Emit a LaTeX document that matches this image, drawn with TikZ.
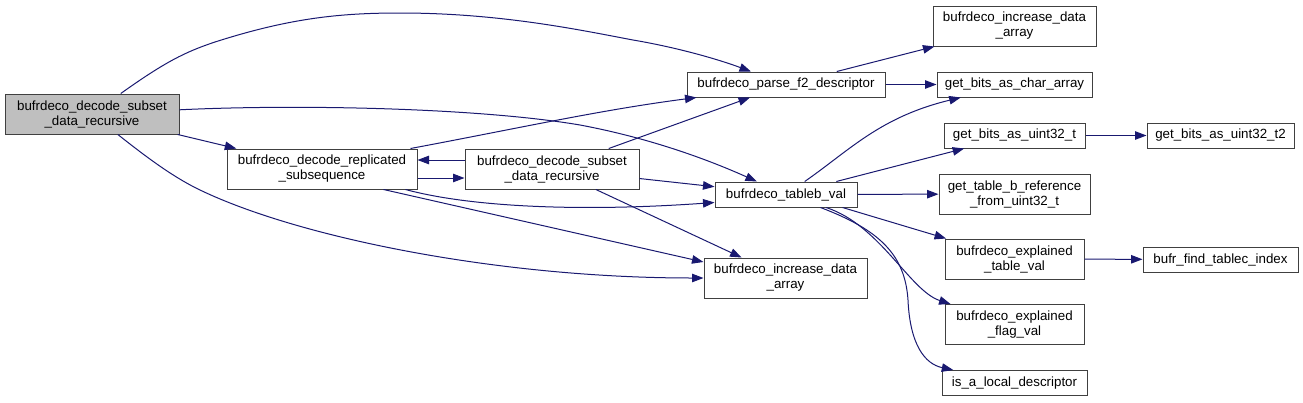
\documentclass[tikz,border=0pt]{standalone}
\usepackage{fontspec}
\setmainfont{Liberation Sans}
\usetikzlibrary{arrows.meta}
\definecolor{edgeblue}{HTML}{191970}
\definecolor{rootgray}{HTML}{BFBFBF}

\begin{document}
\begin{tikzpicture}[
  x=1pt, y=-1pt,
  font=\fontsize{13.33}{15}\selectfont,
  >={Triangle[length=11.5pt, width=8.5pt]},
  box/.style={draw=black!75, line width=1pt, fill=white, align=center, inner sep=0pt},
  one/.style={minimum height=25pt},
  two/.style={minimum height=40pt},
  edge/.style={->, draw=edgeblue, line width=1pt}
]
\useasboundingbox (0,0) rectangle (1303,402);
% callers side
\node[box, two, minimum width=174pt, fill=rootgray] (root) at (92,114) {bufrdeco\_decode\_subset\\\_data\_recursive};
\node[box, two, minimum width=190pt] (repl) at (322,169) {bufrdeco\_decode\_replicated\\\_subsequence};
\node[box, two, minimum width=174pt] (subset) at (552,169) {bufrdeco\_decode\_subset\\\_data\_recursive};
\node[box, one, minimum width=198pt] (parse) at (786,84.5) {bufrdeco\_parse\_f2\_descriptor};
\node[box, one, minimum width=142pt] (tableb) at (786,194.5) {bufrdeco\_tableb\_val};
\node[box, two, minimum width=163pt] (incr) at (785.5,278) {bufrdeco\_increase\_data\\\_array};
% callees side
\node[box, two, minimum width=163pt] (incrtop) at (1014.5,26) {bufrdeco\_increase\_data\\\_array};
\node[box, one, minimum width=155pt] (chararr) at (1014.5,84.5) {get\_bits\_as\_char\_array};
\node[box, one, minimum width=141pt] (uint) at (1014.5,135.5) {get\_bits\_as\_uint32\_t};
\node[box, one, minimum width=147pt] (uinttwo) at (1220.5,135.5) {get\_bits\_as\_uint32\_t2};
\node[box, two, minimum width=151pt] (tbref) at (1014.5,194) {get\_table\_b\_reference\\\_from\_uint32\_t};
\node[box, two, minimum width=139pt] (expltab) at (1014.5,259) {bufrdeco\_explained\\\_table\_val};
\node[box, one, minimum width=155pt] (tablec) at (1220.5,259.5) {bufr\_find\_tablec\_index};
\node[box, two, minimum width=139pt] (explflag) at (1014.5,324.5) {bufrdeco\_explained\\\_flag\_val};
\node[box, one, minimum width=145pt] (local) at (1014.5,383) {is\_a\_local\_descriptor};

\draw[edge] (root) .. controls (165,62) and (185,52) .. (215,42)
  .. controls (290,18) and (340,13) .. (400,13)
  .. controls (500,13) and (580,30) .. (633,40)
  .. controls (680,48) and (720,60) .. (parse);
\draw[edge] (root) .. controls (300,104) and (480,108) .. (580,125)
  .. controls (660,140) and (720,165) .. (tableb);
\draw[edge] (root) -- (repl);
\draw[edge] (root) .. controls (150,160) and (175,178) .. (200,190)
  .. controls (300,238) and (500,278) .. (incr);
\draw[edge] ([xshift=-7pt]repl.north east) .. controls (520,128) and (600,110) .. ([xshift=10pt]parse.south west);
\draw[edge] ([yshift=9pt]subset.west) -- ([yshift=9pt]repl.east);
\draw[edge] ([yshift=-9pt]repl.east) -- ([yshift=-9pt]subset.west);
\draw[edge] ([xshift=-12pt]repl.south east) .. controls (470,207) and (580,212) .. ([yshift=-8pt]tableb.west);
\draw[edge] ([xshift=-34pt]repl.south east) -- ([yshift=16pt]incr.west);
\draw[edge] (subset) -- (parse);
\draw[edge] (subset) -- (tableb);
\draw[edge] (subset) -- (incr);
\draw[edge] (parse) -- (incrtop);
\draw[edge] (parse) -- (chararr);
\draw[edge] (tableb) .. controls (850,150) and (880,117) .. (chararr);
\draw[edge] (tableb) -- (uint);
\draw[edge] (tableb) -- (tbref);
\draw[edge] ([xshift=-15pt]tableb.south east) -- (expltab);
\draw[edge] (tableb) .. controls (880,225) and (910,291) .. (explflag);
\draw[edge] (tableb) .. controls (880,230) and (905,255) .. (908,300)
  .. controls (910,345) and (925,364) .. (local);
\draw[edge] (uint) -- (uinttwo);
\draw[edge] (expltab) -- (tablec);
\end{tikzpicture}
\end{document}
